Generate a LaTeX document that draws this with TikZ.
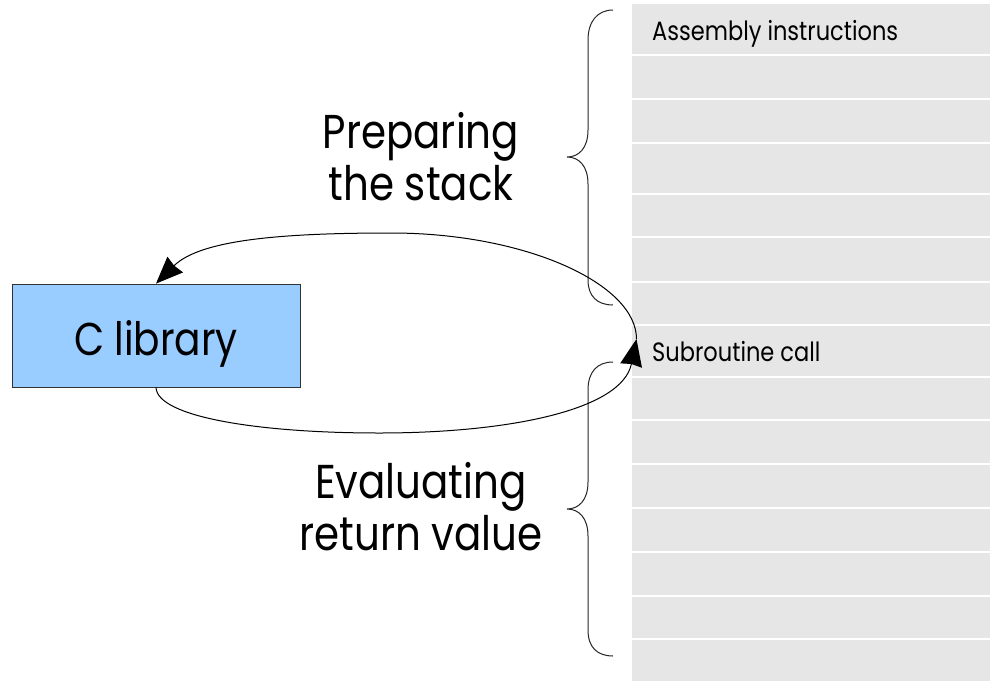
\documentclass[tikz,border=0pt]{standalone}
\usepackage{fontspec}
\setmainfont[FakeStretch=0.85]{Poppins}
\usetikzlibrary{arrows.meta}
\definecolor{colgray}{HTML}{E6E6E6}
\definecolor{libblue}{HTML}{99CCFF}
\begin{document}
\begin{tikzpicture}[x=1pt,y=-1pt,
  conn/.style={line width=1pt, -{Stealth[length=27pt,width=22pt,inset=1.5pt]}},
  bracestyle/.style={line width=1pt, draw=black!85},
  rowline/.style={draw=white, line width=1.4pt},
  biglabel/.style={font=\fontsize{47.5}{52}\selectfont, align=center, inner sep=0pt, anchor=base},
  rowlabel/.style={font=\fontsize{26.5}{30}\selectfont, anchor=base west, inner sep=0pt},
  libbox/.style={draw=black!80, line width=0.8pt, fill=libblue, minimum width=288pt, minimum height=103pt,
    font=\fontsize{46}{49}\selectfont, text height=39pt, text depth=0pt, inner sep=0pt},
]
\useasboundingbox (0,0) rectangle (997,681);
% instruction column
\fill[colgray] (632,4) rectangle (990,681);
\foreach \y in {55,99,143,194,237,282,325,377,420,464,508,552,596,639}
  \draw[rowline] (632,\y) -- (990,\y);
\node[rowlabel] (asm) at (652,40) {Assembly instructions};
\node[rowlabel] (call) at (652,361.5) {Subroutine call};
\coordinate (sc) at (636.5,339);
% library box
\node[libbox] (lib) at (156,335.5) {C library};
% labels (anchored at the baseline of the last line)
\node[biglabel] (prep) at (421,200) {Preparing\\the stack};
\node[biglabel] (eval) at (421,550) {Evaluating\\return value};
% braces
\draw[bracestyle] (613,10) .. controls (597,10) and (588,22) .. (588,40) -- (588,130)
  .. controls (588,148) and (579,157) .. (567,157)
  .. controls (579,157) and (588,166) .. (588,184) -- (588,280)
  .. controls (588,296) and (597,305) .. (613,305);
\draw[bracestyle] (613,362) .. controls (597,362) and (588,372) .. (588,390) -- (588,482)
  .. controls (588,500) and (579,509) .. (567,509)
  .. controls (579,509) and (588,518) .. (588,536) -- (588,630)
  .. controls (588,647) and (597,656) .. (613,656);
% connectors
\draw[conn] (sc) .. controls (636.5,284) and (526,233) .. (391,233)
  .. controls (280,233) and (200,240) .. (lib.north);
\draw[conn] (lib.south) .. controls (157,417) and (259,433) .. (379,433)
  .. controls (509,433) and (622,410) .. (sc);
\end{tikzpicture}
\end{document}
